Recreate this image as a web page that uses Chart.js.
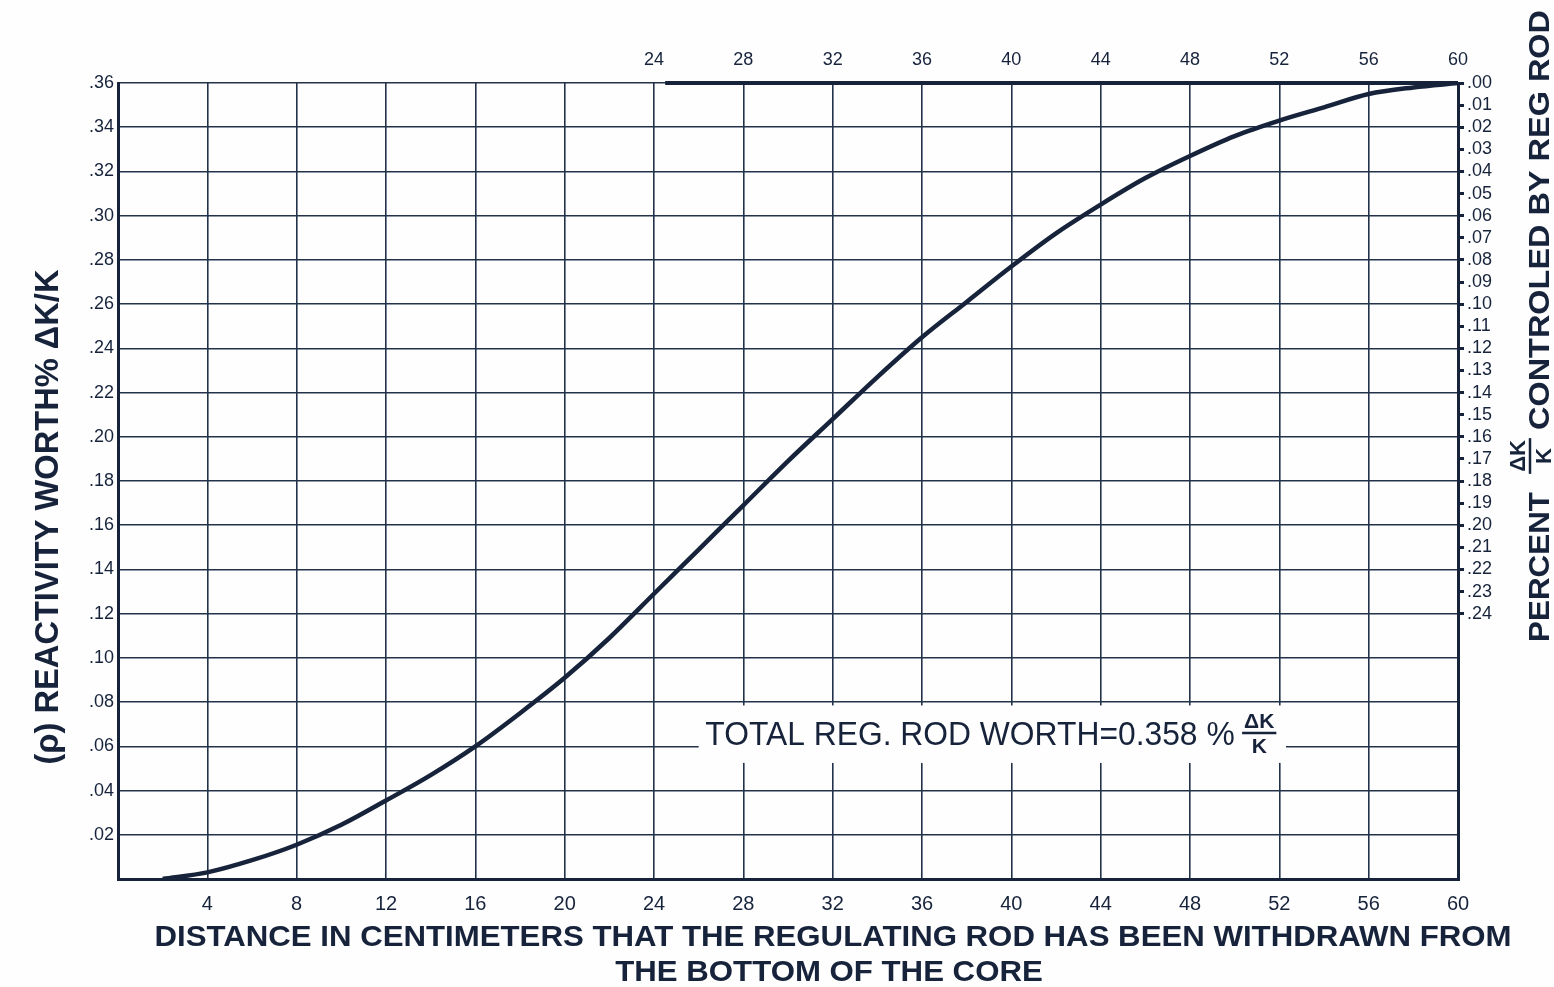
<!DOCTYPE html>
<html>
<head>
<meta charset="utf-8">
<script src="https://cdn.jsdelivr.net/npm/chart.js@4/dist/chart.umd.min.js"></script>
<style>
  html, body { margin: 0; padding: 0; background: #fefefe; }
  canvas { display: block; }
</style>
</head>
<body>
<canvas id="chart" width="1554" height="987"></canvas>
<script>
// ---------- DATA ----------
const distanceCm = [2, 4, 6, 8, 10, 12, 14, 16, 18, 20, 22, 24, 26, 28, 30, 32, 34, 36, 38, 40, 42, 44, 46, 48, 50, 52, 54, 56, 58, 60];
const worthPct   = [0, 0.003, 0.0085, 0.0155, 0.0245, 0.0355, 0.047, 0.060, 0.075, 0.091, 0.109, 0.129, 0.149, 0.169, 0.189, 0.208, 0.227, 0.245, 0.261, 0.277, 0.292, 0.305, 0.317, 0.327, 0.336, 0.343, 0.349, 0.355, 0.358, 0.36];

const bottomTicks = [4, 8, 12, 16, 20, 24, 28, 32, 36, 40, 44, 48, 52, 56, 60];
const topTicks    = [24, 28, 32, 36, 40, 44, 48, 52, 56, 60];
const leftTicks   = [0.02, 0.04, 0.06, 0.08, 0.10, 0.12, 0.14, 0.16, 0.18, 0.20, 0.22, 0.24, 0.26, 0.28, 0.30, 0.32, 0.34, 0.36];
const rightTicks  = [0.00, 0.01, 0.02, 0.03, 0.04, 0.05, 0.06, 0.07, 0.08, 0.09, 0.10, 0.11, 0.12, 0.13, 0.14, 0.15, 0.16, 0.17, 0.18, 0.19, 0.20, 0.21, 0.22, 0.23, 0.24];

const topScaleCm    = [24.5, 60];
const topScaleWorth = [0.36, 0.36];

const totalWorth = 0.358;
const noteText = 'TOTAL REG. ROD WORTH=' + totalWorth.toFixed(3) + ' %';

// ---------- STYLE ----------
const ink = '#16233b';
const gridInk = '#22324b';
const paper = '#fefefe';
const family = '"Liberation Sans", Arial, sans-serif';

const noteLayout = { boxX: [26.0, 52.3], boxY: [0.0525, 0.0785], textX: [26.3, 50.0], fracX: 51.1, centerY: 0.066 };

function fitText(ctx, text, x, baseline, width, align) {
  const w = ctx.measureText(text).width;
  const s = width / w;
  ctx.save();
  ctx.translate(x, baseline);
  ctx.scale(s, 1);
  ctx.textAlign = align;
  ctx.textBaseline = 'alphabetic';
  ctx.fillText(text, 0, 0);
  ctx.restore();
}

function drawFraction(ctx, cx, cy, fs) {
  ctx.save();
  ctx.font = 'bold ' + fs + 'px ' + family;
  ctx.textAlign = 'center';
  ctx.textBaseline = 'alphabetic';
  const wN = ctx.measureText('ΔK').width;
  ctx.fillText('ΔK', cx, cy - 5);
  ctx.fillText('K', cx, cy + 5 + fs * 0.72);
  ctx.lineWidth = 2.5;
  ctx.strokeStyle = ctx.fillStyle;
  ctx.beginPath();
  ctx.moveTo(cx - wN / 2 - 2, cy);
  ctx.lineTo(cx + wN / 2 + 2, cy);
  ctx.stroke();
  ctx.restore();
}

const overlay = {
  id: 'overlay',
  beforeDraw(chart) {
    const c = chart.ctx;
    c.save();
    c.fillStyle = paper;
    c.fillRect(0, 0, chart.width, chart.height);
    c.restore();
  },
  beforeDatasetsDraw(chart) {
    const { ctx, scales: { x, y } } = chart;
    const x0 = x.getPixelForValue(noteLayout.boxX[0]);
    const x1 = x.getPixelForValue(noteLayout.boxX[1]);
    const yT = y.getPixelForValue(noteLayout.boxY[1]);
    const yB = y.getPixelForValue(noteLayout.boxY[0]);
    ctx.save();
    ctx.fillStyle = paper;
    ctx.fillRect(x0, yT, x1 - x0, yB - yT);
    ctx.fillStyle = ink;
    const fs = 34;
    ctx.font = fs + 'px ' + family;
    const cy = y.getPixelForValue(noteLayout.centerY);
    const tx0 = x.getPixelForValue(noteLayout.textX[0]);
    const tx1 = x.getPixelForValue(noteLayout.textX[1]);
    fitText(ctx, noteText, tx0, cy + fs * 0.36, tx1 - tx0, 'left');
    drawFraction(ctx, x.getPixelForValue(noteLayout.fracX), cy, 21);
    ctx.restore();
  },
  afterDraw(chart) {
    const ctx = chart.ctx;
    ctx.save();
    ctx.fillStyle = ink;
    ctx.strokeStyle = ink;

    // bottom title (two lines)
    ctx.font = 'bold 30px ' + family;
    const l1 = 'DISTANCE IN CENTIMETERS THAT THE REGULATING ROD HAS BEEN WITHDRAWN FROM';
    const l2 = 'THE BOTTOM OF THE CORE';
    const s = 1357 / ctx.measureText(l1).width;
    fitText(ctx, l1, 833, 946, 1357, 'center');
    fitText(ctx, l2, 829, 981, ctx.measureText(l2).width * s, 'center');

    // left title (reads bottom to top)
    ctx.save();
    ctx.translate(46, 517);
    ctx.rotate(-Math.PI / 2);
    ctx.font = 'bold 34px ' + family;
    fitText(ctx, '(ρ) REACTIVITY WORTH% ΔK/K', 0, 34 * 0.36, 495, 'center');
    ctx.restore();

    // right title (reads bottom to top)
    ctx.save();
    ctx.translate(1538, 642);
    ctx.rotate(-Math.PI / 2);
    ctx.font = 'bold 30px ' + family;
    fitText(ctx, 'PERCENT', 0, 11, 150, 'left');
    drawFraction(ctx, 186, -8, 22);
    ctx.font = 'bold 30px ' + family;
    fitText(ctx, 'CONTROLED BY REG ROD', 212, 11, 420, 'left');
    ctx.restore();

    ctx.restore();
  }
};

const tickFont = (size) => ({ family: 'Liberation Sans', size: size });
const fmt2 = (v) => '.' + String(Math.round(v * 100)).padStart(2, '0');

new Chart(document.getElementById('chart'), {
  type: 'line',
  data: {
    datasets: [
      {
        label: 'Reactivity worth',
        data: distanceCm.map((d, i) => ({ x: d, y: worthPct[i] })),
        borderColor: ink,
        borderWidth: 4.5,
        pointRadius: 0,
        cubicInterpolationMode: 'monotone',
        fill: false
      },
      {
        label: 'top scale',
        data: topScaleCm.map((d, i) => ({ x: d, y: topScaleWorth[i] })),
        borderColor: ink,
        borderWidth: 4,
        pointRadius: 0,
        clip: false,
        fill: false
      }
    ]
  },
  options: {
    responsive: false,
    animation: false,
    devicePixelRatio: 1,
    layout: { padding: 0 },
    plugins: { legend: { display: false }, tooltip: { enabled: false } },
    scales: {
      x: {
        type: 'linear', position: 'bottom', min: 0, max: 60,
        afterBuildTicks: (s) => { s.ticks = bottomTicks.map(v => ({ value: v })); },
        afterFit: (s) => { s.height = 108; },
        ticks: { color: ink, font: tickFont(20), padding: 13, maxRotation: 0, autoSkip: false, callback: (v) => String(v) },
        grid: { color: gridInk, lineWidth: 1.6, drawTicks: false },
        border: { color: ink, width: 3 }
      },
      x2: {
        type: 'linear', position: 'top', min: 0, max: 60,
        afterBuildTicks: (s) => { s.ticks = topTicks.map(v => ({ value: v })); },
        afterFit: (s) => { s.height = 83; },
        ticks: { color: ink, font: tickFont(18), padding: 12, maxRotation: 0, autoSkip: false, callback: (v) => String(v) },
        grid: { display: false, drawTicks: false },
        border: { display: false }
      },
      y: {
        type: 'linear', position: 'left', min: 0, max: 0.36,
        afterBuildTicks: (s) => { s.ticks = leftTicks.map(v => ({ value: v })); },
        afterFit: (s) => { s.width = 118; },
        ticks: { color: ink, font: tickFont(18), padding: 4, autoSkip: false, callback: (v) => fmt2(v) },
        grid: { color: gridInk, lineWidth: 1.6, drawTicks: false },
        border: { color: ink, width: 3 }
      },
      y2: {
        type: 'linear', position: 'right', min: 0, max: 0.36, reverse: true,
        afterBuildTicks: (s) => { s.ticks = rightTicks.map(v => ({ value: v })); },
        afterFit: (s) => { s.width = 96; },
        ticks: { color: ink, font: tickFont(18), padding: 3, autoSkip: false, callback: (v) => fmt2(v) },
        grid: { drawOnChartArea: false, drawTicks: true, tickLength: 6, color: ink, lineWidth: 3 },
        border: { color: ink, width: 3 }
      }
    }
  },
  plugins: [overlay]
});
</script>
</body>
</html>
